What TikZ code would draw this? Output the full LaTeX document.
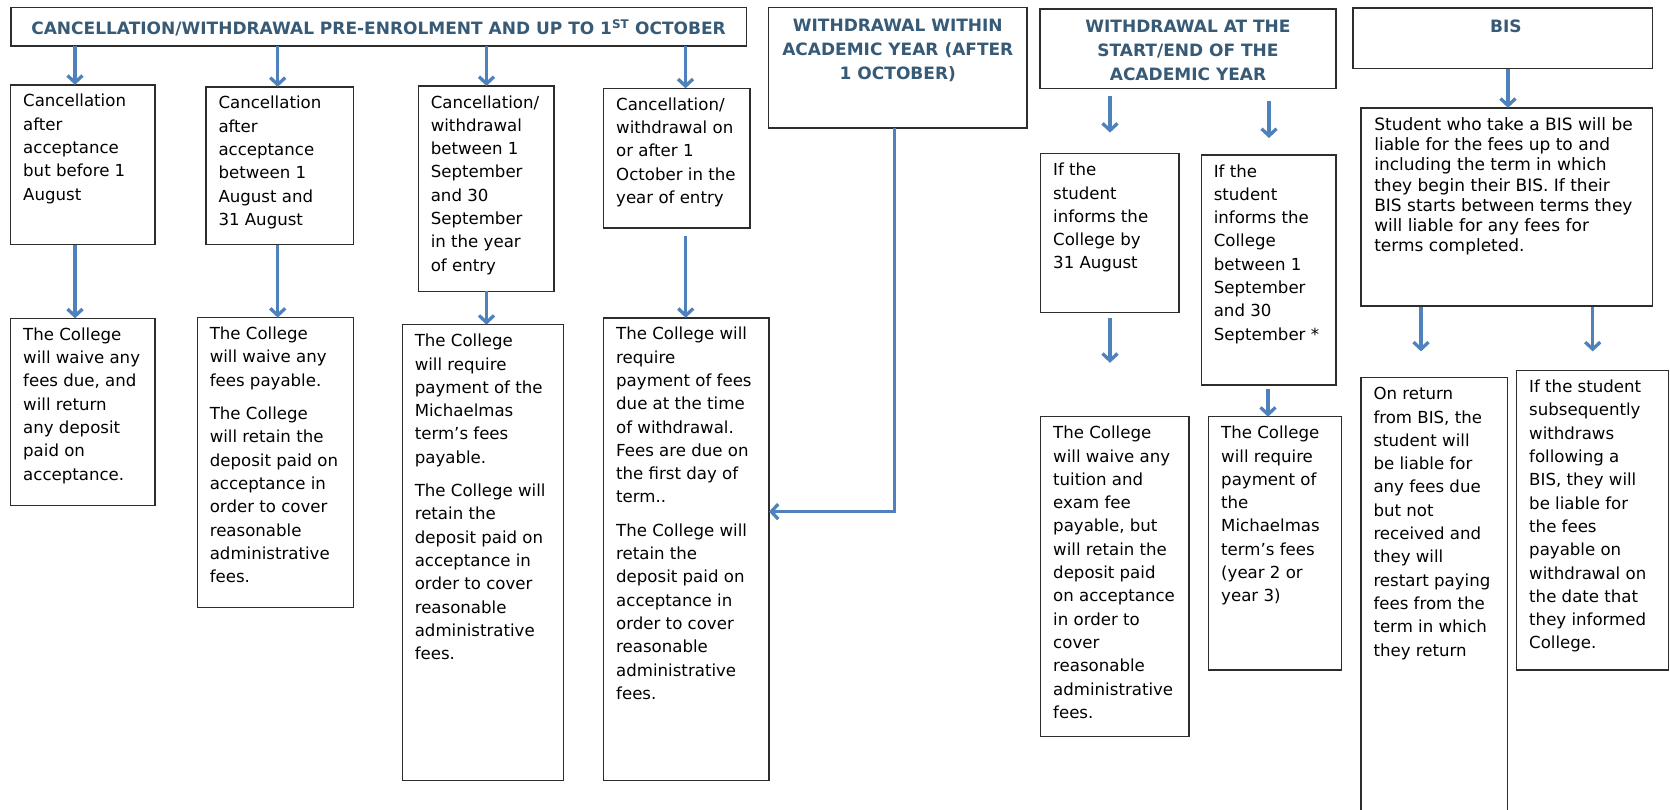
\documentclass[tikz,border=0pt]{standalone}
\usepackage{fontspec}
\setmainfont{DejaVu Sans}
\usetikzlibrary{arrows.meta}
\definecolor{arrowblue}{RGB}{79,129,189}
\definecolor{headblue}{RGB}{55,90,118}
\definecolor{boxline}{RGB}{45,45,45}
\tikzset{
  box/.style={draw=boxline, line width=1.4pt, inner sep=0pt, outer sep=0pt, anchor=north west},
  hbox/.style={box, line width=1.6pt},
  txt/.style={inner sep=0pt, outer sep=0pt, anchor=north west, align=left, font=\fontsize{16.6}{23.3}\selectfont},
  bistxt/.style={txt, font=\fontsize{17}{20.2}\selectfont},
  htxt/.style={inner sep=0pt, outer sep=0pt, anchor=north, align=center, text=headblue, font=\fontsize{17}{24}\selectfont\bfseries},
  arr/.style={draw=arrowblue, line width=3.3pt, -{Straight Barb[length=7pt,width=15pt]}},
}
\newcommand\mkbox[6]{\node[#6, minimum width={(#4-#2)*1pt}, minimum height={(#5-#3)*1pt}] (#1) at (#2,#3) {};}
\newcommand\mktxt[5]{\node[#4] (#1) at ({#2+12.5},{#3+9}) {\rule{0pt}{13pt}#5};}
\begin{document}
\begin{tikzpicture}[x=1pt,y=-1pt]
\fill[white] (0,0) rectangle (1670,809);
\path[use as bounding box, clip] (0,0) rectangle (1670,809);

% header boxes
\mkbox{h1}{10.7}{7.3}{746.5}{46}{hbox}
\mkbox{h2}{768.5}{7.3}{1027}{127.7}{hbox}
\mkbox{h3}{1040}{9}{1336}{88.3}{hbox}
\mkbox{h4}{1353}{8}{1652.3}{68.5}{hbox}
\node[htxt] (h1t) at (378.6,19.7) {\rule{0pt}{13pt}CANCELLATION/WITHDRAWAL PRE-ENROLMENT AND UP TO 1\textsuperscript{ST} OCTOBER};
\node[htxt] (h2t) at (897.8,18) {\rule{0pt}{13pt}WITHDRAWAL WITHIN\\ACADEMIC YEAR (AFTER\\1 OCTOBER)};
\node[htxt] (h3t) at (1188,19) {\rule{0pt}{13pt}WITHDRAWAL AT THE\\START/END OF THE\\ACADEMIC YEAR};
\node[htxt] (h4t) at (1505.8,19.7) {\rule{0pt}{13pt}BIS};

% column boxes
\mkbox{c1a}{10.7}{84.8}{155}{244.6}{box}
\mkbox{c1b}{10.7}{318.3}{155}{505.3}{box}
\mkbox{c2a}{206}{86.9}{353.3}{244.6}{box}
\mkbox{c2b}{197.3}{317.6}{353.3}{607.5}{box}
\mkbox{c3a}{418.3}{86}{554}{291.2}{box}
\mkbox{c3b}{402.3}{324.7}{563.3}{780.2}{box}
\mkbox{c4a}{603.7}{88.3}{750}{227.8}{box}
\mkbox{c4b}{603.7}{317.8}{769}{780.2}{box}
\mkbox{w1a}{1040.7}{153.7}{1179}{312.3}{box}
\mkbox{w1b}{1040.7}{416.7}{1189}{736.6}{box}
\mkbox{w2a}{1201.3}{155}{1336}{385.1}{box}
\mkbox{w2b}{1208.7}{416.7}{1341.7}{670}{box}
\mkbox{b0}{1361}{107.8}{1652.3}{306}{box}
\mkbox{b1}{1361}{377.7}{1507.7}{815}{box}
\mkbox{b2}{1516.7}{370.6}{1668.3}{670.1}{box}

% texts
\mktxt{c1at}{10.7}{84.8}{txt}{Cancellation\\after\\acceptance\\but before 1\\August}
\mktxt{c1bt}{10.7}{318.3}{txt}{The College\\will waive any\\fees due, and\\will return\\any deposit\\paid on\\acceptance.}
\mktxt{c2at}{206}{86.9}{txt}{Cancellation\\after\\acceptance\\between 1\\August and\\31 August}
\mktxt{c2bt}{197.3}{317.6}{txt}{The College\\will waive any\\fees payable.\\[10pt]The College\\will retain the\\deposit paid on\\acceptance in\\order to cover\\reasonable\\administrative\\fees.}
\mktxt{c3at}{418.3}{86}{txt}{Cancellation/\\withdrawal\\between 1\\September\\and 30\\September\\in the year\\of entry}
\mktxt{c3bt}{402.3}{324.7}{txt}{The College\\will require\\payment of the\\Michaelmas\\term’s fees\\payable.\\[10pt]The College will\\retain the\\deposit paid on\\acceptance in\\order to cover\\reasonable\\administrative\\fees.}
\mktxt{c4at}{603.7}{88.3}{txt}{Cancellation/\\withdrawal on\\or after 1\\October in the\\year of entry}
\mktxt{c4bt}{603.7}{317.8}{txt}{The College will\\require\\payment of fees\\due at the time\\of withdrawal.\\Fees are due on\\the first day of\\term..\\[10pt]The College will\\retain the\\deposit paid on\\acceptance in\\order to cover\\reasonable\\administrative\\fees.}
\mktxt{w1at}{1040.7}{153.7}{txt}{If the\\student\\informs the\\College by\\31 August}
\mktxt{w1bt}{1040.7}{416.7}{txt}{The College\\will waive any\\tuition and\\exam fee\\payable, but\\will retain the\\deposit paid\\on acceptance\\in order to\\cover\\reasonable\\administrative\\fees.}
\mktxt{w2at}{1201.3}{155}{txt}{If the\\student\\informs the\\College\\between 1\\September\\and 30\\September *}
\mktxt{w2bt}{1208.7}{416.7}{txt}{The College\\will require\\payment of\\the\\Michaelmas\\term’s fees\\(year 2 or\\year 3)}
\node[bistxt] (b0t) at (1374.3,117.5) {\rule{0pt}{13pt}Student who take a BIS will be\\liable for the fees up to and\\including the term in which\\they begin their BIS. If their\\BIS starts between terms they\\will liable for any fees for\\terms completed.};
\mktxt{b1t}{1361}{377.7}{txt}{On return\\from BIS, the\\student will\\be liable for\\any fees due\\but not\\received and\\they will\\restart paying\\fees from the\\term in which\\they return}
\mktxt{b2t}{1516.7}{370.6}{txt}{If the student\\subsequently\\withdraws\\following a\\BIS, they will\\be liable for\\the fees\\payable on\\withdrawal on\\the date that\\they informed\\College.}

% connectors
\draw[arr] (75,0 |- h1.south) -- (75,0 |- c1a.north);
\draw[arr] (277.7,0 |- h1.south) -- (277.7,0 |- c2a.north);
\draw[arr] (486.5,0 |- h1.south) -- (486.5,0 |- c3a.north);
\draw[arr] (685.5,0 |- h1.south) -- (685.5,0 |- c4a.north);
\draw[arr] (75,0 |- c1a.south) -- (75,0 |- c1b.north);
\draw[arr] (277.7,0 |- c2a.south) -- (277.7,0 |- c2b.north);
\draw[arr] (486.5,0 |- c3a.south) -- (486.5,0 |- c3b.north);
\coordinate (c4s) at (685.7,236);
\draw[arr] (c4s) -- (c4s |- c4b.north);
\draw[arr] (894.6,0 |- h2.south) -- (894.6,511.6) -- (c4b.east |- 0,511.6);

\coordinate (w1s) at (1110,96);
\coordinate (w1e) at (1110,132.6);
\draw[arr] (w1s) -- (w1e);
\coordinate (w2s) at (1269,101);
\coordinate (w2e) at (1269,138);
\draw[arr] (w2s) -- (w2e);
\coordinate (w3s) at (1110,317.8);
\coordinate (w3e) at (1110,362.8);
\draw[arr] (w3s) -- (w3e);
\coordinate (w4s) at (1268,389.3);
\draw[arr] (w4s) -- (w4s |- w2b.north);

\draw[arr] (1508,0 |- h4.south) -- (1508,0 |- b0.north);
\coordinate (b1s) at (1421,307);
\coordinate (b1e) at (1421,351.4);
\draw[arr] (b1s) -- (b1e);
\coordinate (b2s) at (1592.7,307);
\coordinate (b2e) at (1592.7,351.4);
\draw[arr] (b2s) -- (b2e);
\end{tikzpicture}
\end{document}
